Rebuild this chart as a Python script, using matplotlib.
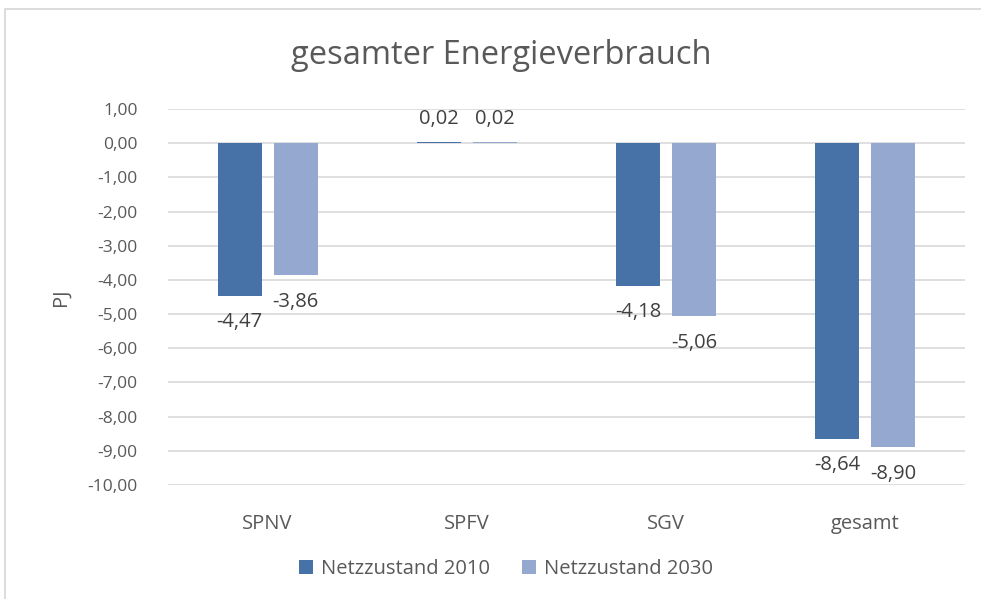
import matplotlib.pyplot as plt
import numpy as np
from matplotlib.patches import Rectangle

# data
categories = ["SPNV", "SPFV", "SGV", "gesamt"]
series_names = ["Netzzustand 2010", "Netzzustand 2030"]
values_2010 = [-4.47, 0.02, -4.18, -8.64]
values_2030 = [-3.86, 0.02, -5.06, -8.90]
yticks = [1, 0, -1, -2, -3, -4, -5, -6, -7, -8, -9, -10]

col_dark = "#4672A8"
col_light = "#95A9D0"
txt = "#595959"
plt.rcParams["font.family"] = ["Open Sans", "DejaVu Sans"]

fig = plt.figure(figsize=(9.81, 5.99), dpi=100)
fig.patches.append(Rectangle((5 / 981, -0.1), 1.2, (599 - 9) / 599 + 0.1,
                             transform=fig.transFigure, fill=False,
                             edgecolor="#D9D9D9", linewidth=1.3))
ax = fig.add_axes([168 / 981, 1 - 485 / 599, 797 / 981, 376 / 599])

x = np.arange(len(categories))
w = 0.221
off = 0.141
b1 = ax.bar(x - off, values_2010, w, color=col_dark, label=series_names[0], zorder=3)
b2 = ax.bar(x + off, values_2030, w, color=col_light, label=series_names[1], zorder=3)

for bars, vals in ((b1, values_2010), (b2, values_2030)):
    for b, v in zip(bars, vals):
        dy = 17 if v > 0 else -19
        ax.annotate(f"{v:.2f}".replace(".", ","),
                    (b.get_x() + b.get_width() / 2, v),
                    xytext=(0, dy), textcoords="offset points",
                    ha="center", va="center", fontsize=14.5, color="#404040")

ax.set_xlim(-0.5, len(categories) - 0.5)
ax.set_ylim(-10, 1)
ax.set_yticks(yticks)
ax.set_yticklabels([f"{t:.2f}".replace(".", ",") for t in yticks])
ax.set_xticks(x)
ax.set_xticklabels(categories)
ax.tick_params(axis="y", length=0, pad=22, labelsize=12.5, labelcolor=txt)
ax.tick_params(axis="x", length=0, pad=21, labelsize=14.5, labelcolor=txt)
ax.grid(axis="y", color="#D9D9D9", linewidth=1.2, zorder=0)
for s in ax.spines.values():
    s.set_visible(False)

ax.set_ylabel("PJ", fontsize=14.5, color=txt, labelpad=12)
fig.text(501 / 981, 1 - 55 / 599, "gesamter Energieverbrauch",
         fontsize=23.5, color=txt, ha="center", va="center")

ax.legend(loc="center", bbox_to_anchor=(506 / 981, 1 - 569 / 599), bbox_transform=fig.transFigure,
          ncol=2, frameon=False, fontsize=14.5, labelcolor=txt,
          handlelength=0.7, handleheight=0.7, columnspacing=1.6, handletextpad=0.4)

fig.savefig("out.png", dpi=100)
